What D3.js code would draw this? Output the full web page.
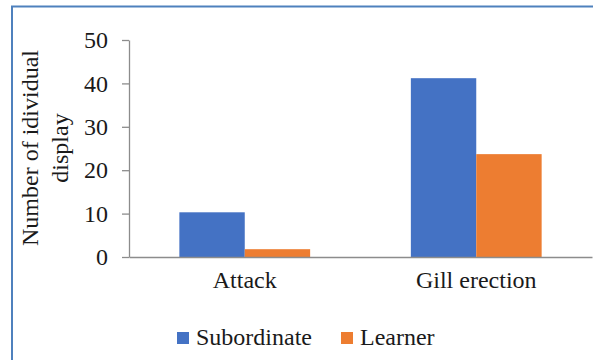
<!DOCTYPE html>
<html>
<head>
<meta charset="utf-8">
<script src="https://cdn.jsdelivr.net/npm/d3@7"></script>
<style>
  html, body { margin: 0; padding: 0; background: #fff; }
  svg { display: block; }
  text { font-family: "Liberation Serif", "Times New Roman", serif; fill: #1a1a1a; }
</style>
</head>
<body>
<svg id="chart" width="593" height="360"></svg>
<script>
// Display counts per behaviour and fish role
const categories = ["Attack", "Gill erection"];
const seriesNames = ["Subordinate", "Learner"];
const subordinate = [10.3, 41.2];
const learner = [1.8, 23.7];
const yTicks = [0, 10, 20, 30, 40, 50];
const colors = ["#4472C4", "#ED7D31"];

const svg = d3.select("#chart");
const W = 593, H = 360;
const margin = { left: 129, right: 1, top: 40, bottom: 103 };

// Outer frame (top and left edges)
svg.append("path")
  .attr("d", `M12,${H} L12,6.5 L${W},6.5`)
  .attr("fill", "none")
  .attr("stroke", "#4F81BD")
  .attr("stroke-width", 2);

const x0 = d3.scaleBand()
  .domain(categories)
  .range([margin.left, W - margin.right])
  .paddingInner(0)
  .paddingOuter(0);

const x1 = d3.scaleBand()
  .domain(seriesNames)
  .range([0, x0.bandwidth()])
  .paddingInner(0)
  .paddingOuter(0.77);

const y = d3.scaleLinear()
  .domain([0, 50])
  .range([H - margin.bottom, margin.top]);

const rows = categories.map((c, i) => ({
  cat: c,
  vals: [
    { s: seriesNames[0], v: subordinate[i], c: colors[0] },
    { s: seriesNames[1], v: learner[i], c: colors[1] }
  ]
}));

// Bars
const groups = svg.append("g").selectAll("g")
  .data(rows).join("g")
  .attr("transform", d => `translate(${x0(d.cat)},0)`);

groups.selectAll("rect")
  .data(d => d.vals).join("rect")
  .attr("x", d => x1(d.s))
  .attr("width", x1.bandwidth())
  .attr("y", d => y(d.v))
  .attr("height", d => y(0) - y(d.v))
  .attr("fill", d => d.c);

// Y axis
const yAxis = svg.append("g")
  .attr("transform", `translate(${margin.left},0)`)
  .call(d3.axisLeft(y).tickValues(yTicks).tickSize(7).tickPadding(14).tickSizeOuter(0));
yAxis.attr("font-family", null);
yAxis.select(".domain").attr("stroke", "#8c8c8c").attr("stroke-width", 1.3);
yAxis.selectAll(".tick line").attr("stroke", "#8c8c8c").attr("stroke-width", 1.3);
yAxis.selectAll(".tick text").attr("font-size", 24).attr("fill", null);

// X axis baseline and category labels
const xAxis = svg.append("g")
  .attr("transform", `translate(0,${y(0)})`)
  .call(d3.axisBottom(x0).tickSize(0).tickPadding(14).tickSizeOuter(0));
xAxis.attr("font-family", null);
xAxis.select(".domain").attr("stroke", "#8c8c8c").attr("stroke-width", 1.3);
xAxis.selectAll(".tick text").attr("font-size", 24).attr("fill", null);

// Y axis title (two lines, rotated)
const yt = svg.append("text")
  .attr("transform", "translate(38,148) rotate(-90)")
  .attr("text-anchor", "middle")
  .attr("font-size", 24);
yt.append("tspan").attr("x", 0).attr("dy", 0).text("Number of idividual");
yt.append("tspan").attr("x", 0).attr("dy", 30).text("display");

// Legend
const legendItems = [
  { name: seriesNames[0], color: colors[0], x: 177 },
  { name: seriesNames[1], color: colors[1], x: 341 }
];
const lg = svg.append("g").selectAll("g")
  .data(legendItems).join("g")
  .attr("transform", d => `translate(${d.x},0)`);
lg.append("rect")
  .attr("x", 0).attr("y", 332)
  .attr("width", 12).attr("height", 12)
  .attr("fill", d => d.color);
lg.append("text")
  .attr("x", 19).attr("y", 345)
  .attr("font-size", 24)
  .text(d => d.name);
</script>
</body>
</html>
